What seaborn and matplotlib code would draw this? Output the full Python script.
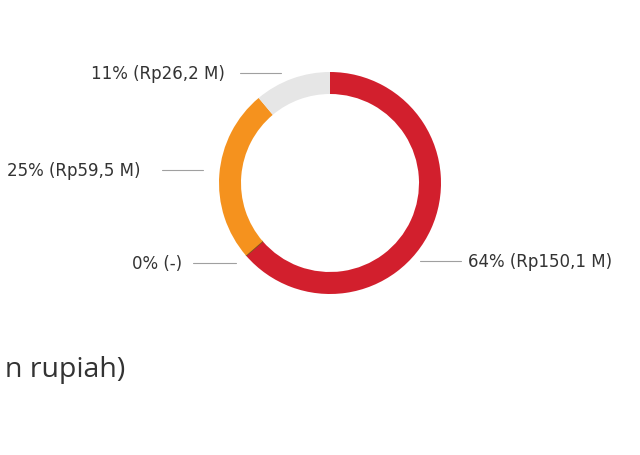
import matplotlib
matplotlib.use("Agg")
import matplotlib.pyplot as plt
import seaborn as sns

# Data (in miliar rupiah)
labels = ["64% (Rp150,1 M)", "0% (-)", "25% (Rp59,5 M)", "11% (Rp26,2 M)"]
values = [150.1, 0.0, 59.5, 26.2]
colors = ["#d21f2d", "#7a5520", "#f5921e", "#e6e6e6"]

sns.set_theme(style="white")
plt.rcParams['font.family'] = ['DejaVu Sans']

fig = plt.figure(figsize=(6.4, 4.56), dpi=100)
ax = fig.add_axes([0, 0, 1, 1])

# donut, clockwise from 12 o'clock
wedges, _ = ax.pie(values, colors=colors, startangle=90, counterclock=False,
                   center=(330, 272), radius=111, frame=True,
                   wedgeprops=dict(width=22, linewidth=0))
# the zero slice shows as a thin dark divider
wedges[1].set_edgecolor(colors[1])
wedges[1].set_linewidth(1.2)

ax.set_xlim(0, 640)
ax.set_ylim(0, 456)
ax.set_aspect('equal')
ax.axis('off')

# label positions: (text x, text y, alignment, line start, line end)
label_pos = [
    (468, 194, 'left', 420, 461),
    (182, 192, 'right', 193, 236),
    (140, 285, 'right', 162, 203),
    (225, 382, 'right', 240, 281),
]
for lab, (tx, ty, ha, x0, x1) in zip(labels, label_pos):
    ax.plot([x0, x1], [ty, ty], color="#a0a0a0", lw=0.8)
    ax.text(tx, ty, lab, ha=ha, va='center', fontsize=12, color="#333333",
            family=['DejaVu Sans'])

# axis note, only its tail is inside the picture
ax.text(125, 86, "n rupiah)", ha='right', va='center',
        fontsize=20.5, color="#333333", family=['Open Sans', 'DejaVu Sans'])

fig.savefig("out.png", dpi=100)
